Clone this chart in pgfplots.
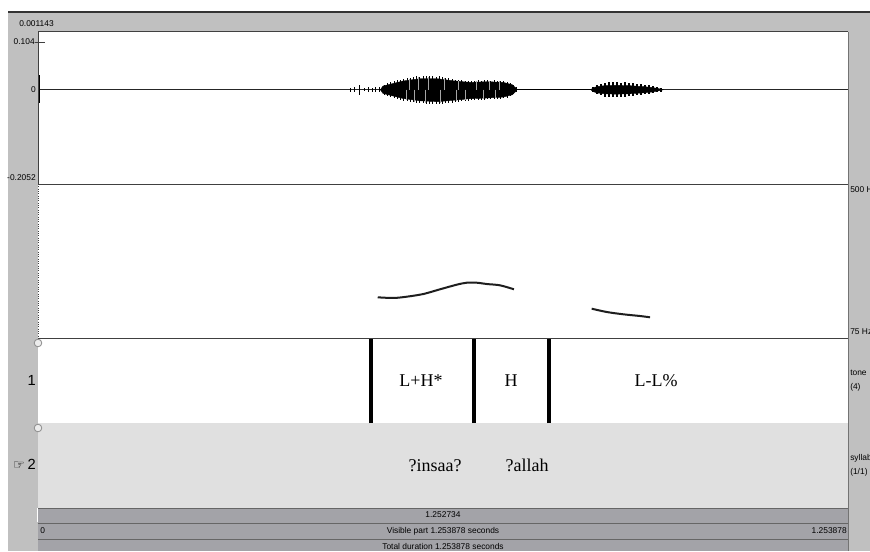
\documentclass[border=0pt]{standalone}
\usepackage{pgfplots}
\pgfplotsset{compat=1.18}
\usepackage{fontspec}
\setmainfont{Liberation Sans}
\newfontfamily\serifft{Liberation Serif}
\newfontfamily\dejavu{DejaVu Sans}
\definecolor{bggray}{RGB}{192,192,192}
\definecolor{tiergray}{RGB}{224,224,224}
\definecolor{bargray}{RGB}{163,163,168}
\definecolor{linegray}{RGB}{64,64,64}
\definecolor{pitchcol}{RGB}{30,30,30}
\pgfplotsset{praat/.style={scale only axis, hide axis, xmin=0, xmax=1.253878,
  width=607.5pt, anchor=south west, clip=true}}
\newcommand{\praatsmall}{\fontsize{6.3}{7}\selectfont}
\begin{document}
\begin{tikzpicture}
\begin{scope}[x=0.75pt,y=0.75pt]
\fill[white] (0,0) rectangle (870,551);
\fill[bggray] (8,0) rectangle (870,538);
\draw[black!80, line width=1.5pt] (8,538.5) -- (870,538.5);
\fill[white] (38,128) rectangle (848,519);
\fill[tiergray] (38,43) rectangle (848,128);
\fill[bargray] (38,0) rectangle (848,43);
\end{scope}

% ---------------- waveform ----------------
\begin{axis}[praat, at={(28.5pt,275.25pt)}, height=114pt, ymin=-0.2052, ymax=0.1257]
\addplot[black!85, line width=0.6pt] coordinates {(0,0) (1.253878,0)};
\addplot[black, line width=1.1pt] coordinates {(0.742,0) (0.859,0)};
\addplot[black, line width=1.6pt] coordinates {(0.0008,0.032) (0.0008,-0.028)};
% main blob core
\addplot[fill=black, draw=black, line width=0.3pt] coordinates {
(0.530,0) (0.534,0.008) (0.565,0.019) (0.591,0.024) (0.618,0.024) (0.642,0.0195) (0.669,0.016)
(0.695,0.0175) (0.720,0.016) (0.734,0.011) (0.741,0.002)
(0.741,-0.002) (0.734,-0.011) (0.720,-0.016) (0.695,-0.018) (0.669,-0.0195) (0.642,-0.023)
(0.618,-0.026) (0.591,-0.024) (0.565,-0.019) (0.534,-0.008)} -- cycle;
% spikes on the main blob
\addplot[ycomb, black, line width=0.55pt, mark=none] coordinates {
(0.483,0.004) (0.489,0.005) (0.498,0.011) (0.505,0.004) (0.512,0.005) (0.518,0.004) (0.523,0.006) (0.529,0.005)
(0.536,0.011) (0.541,0.014) (0.546,0.016) (0.551,0.018) (0.556,0.021) (0.561,0.022) (0.566,0.024)
(0.571,0.025) (0.576,0.026) (0.581,0.028) (0.586,0.029) (0.591,0.028) (0.596,0.029) (0.601,0.030)
(0.606,0.029) (0.611,0.029) (0.616,0.028) (0.621,0.029) (0.626,0.027) (0.631,0.026) (0.636,0.025)
(0.641,0.024) (0.646,0.022) (0.651,0.022) (0.656,0.021) (0.661,0.020) (0.666,0.020) (0.671,0.019)
(0.676,0.020) (0.681,0.021) (0.686,0.020) (0.691,0.021) (0.696,0.021) (0.701,0.020) (0.706,0.021)
(0.711,0.020) (0.716,0.020) (0.721,0.019) (0.726,0.017) (0.731,0.014) (0.736,0.010) (0.740,0.005)};
\addplot[ycomb, black, line width=0.55pt, mark=none] coordinates {
(0.483,-0.004) (0.489,-0.004) (0.498,-0.011) (0.505,-0.003) (0.512,-0.004) (0.518,-0.004) (0.523,-0.005) (0.529,-0.005)
(0.536,-0.011) (0.541,-0.013) (0.546,-0.016) (0.551,-0.018) (0.556,-0.020) (0.561,-0.022) (0.566,-0.024)
(0.571,-0.025) (0.576,-0.026) (0.581,-0.027) (0.586,-0.028) (0.591,-0.028) (0.596,-0.029) (0.601,-0.030)
(0.606,-0.031) (0.611,-0.031) (0.616,-0.031) (0.621,-0.030) (0.626,-0.030) (0.631,-0.029) (0.636,-0.028)
(0.641,-0.028) (0.646,-0.027) (0.651,-0.026) (0.656,-0.025) (0.661,-0.024) (0.666,-0.024) (0.671,-0.023)
(0.676,-0.023) (0.681,-0.022) (0.686,-0.022) (0.691,-0.022) (0.696,-0.021) (0.701,-0.021) (0.706,-0.021)
(0.711,-0.020) (0.716,-0.020) (0.721,-0.019) (0.726,-0.017) (0.731,-0.014) (0.736,-0.010) (0.740,-0.005)};
% lighter streaks inside the main blob
\addplot[ycomb, black!35, line width=0.35pt, mark=none] coordinates {
(0.574,0.024) (0.589,0.027) (0.604,0.028) (0.629,0.025) (0.651,0.020) (0.678,0.019) (0.699,0.019) (0.714,0.018)};
\addplot[ycomb, black!35, line width=0.35pt, mark=none] coordinates {
(0.570,-0.023) (0.583,-0.026) (0.600,-0.028) (0.622,-0.029) (0.647,-0.024) (0.662,-0.022) (0.689,-0.020) (0.708,-0.019)};
% second blob
\addplot[fill=black, draw=black, line width=0.3pt] coordinates {
(0.856,0) (0.859,0.004) (0.866,0.007) (0.878,0.009) (0.895,0.0095) (0.915,0.009) (0.935,0.007)
(0.950,0.005) (0.962,0.002) (0.968,0)
(0.962,-0.002) (0.950,-0.005) (0.935,-0.007) (0.915,-0.009) (0.895,-0.0095) (0.878,-0.009)
(0.866,-0.007) (0.859,-0.004)} -- cycle;
\addplot[ycomb, black, line width=0.9pt, mark=none] coordinates {
(0.8591,0.0065) (0.8653,0.0109) (0.8715,0.0131) (0.8777,0.0153) (0.8839,0.0174) (0.8901,0.0163)
(0.8963,0.0174) (0.9024,0.0153) (0.9086,0.0163) (0.9148,0.0153) (0.9210,0.0142) (0.9272,0.0131)
(0.9334,0.0131) (0.9396,0.0109) (0.9458,0.0098) (0.9520,0.0087) (0.9582,0.0065) (0.9644,0.0044)};
\addplot[ycomb, black, line width=0.9pt, mark=none] coordinates {
(0.8591,-0.0060) (0.8653,-0.0100) (0.8715,-0.0125) (0.8777,-0.0150) (0.8839,-0.0165) (0.8901,-0.0160)
(0.8963,-0.0165) (0.9024,-0.0150) (0.9086,-0.0155) (0.9148,-0.0145) (0.9210,-0.0140) (0.9272,-0.0125)
(0.9334,-0.0120) (0.9396,-0.0100) (0.9458,-0.0090) (0.9520,-0.0080) (0.9582,-0.0060) (0.9644,-0.0040)};
\end{axis}

% ---------------- pitch ----------------
\begin{axis}[praat, at={(28.5pt,159.75pt)}, height=115.5pt, ymin=75, ymax=500]
\addplot[pitchcol, line width=1.5pt, smooth] coordinates {
(0.5259,187.3) (0.5500,185.4) (0.5708,189.0) (0.5965,196.4) (0.6223,209.4) (0.6481,222.1)
(0.6636,227.6) (0.6791,227.6) (0.6946,224.0) (0.7152,220.4) (0.7368,209.4)};
\addplot[pitchcol, line width=1.5pt, smooth] coordinates {
(0.8571,155.9) (0.8803,146.8) (0.9060,140.4) (0.9319,135.7) (0.9474,132.1)};
\end{axis}

% ---------------- tiers ----------------
\begin{axis}[praat, at={(28.5pt,32.25pt)}, height=127.5pt, ymin=0, ymax=2]
\addplot[black, line width=2.4pt] coordinates {(0.5155,1) (0.5155,2)};
\addplot[black, line width=2.4pt] coordinates {(0.6749,1) (0.6749,2)};
\addplot[black, line width=2.4pt] coordinates {(0.7910,1) (0.7910,2)};
\node[font=\serifft\fontsize{13.5}{16}\selectfont] at (axis cs:0.5929,1.5) {L+H*};
\node[font=\serifft\fontsize{13.5}{16}\selectfont] at (axis cs:0.7322,1.5) {H};
\node[font=\serifft\fontsize{13.5}{16}\selectfont] at (axis cs:0.9567,1.5) {L-L\%};
\node[font=\serifft\fontsize{13.5}{16}\selectfont] at (axis cs:0.6146,0.5) {?insaa?};
\node[font=\serifft\fontsize{13.5}{16}\selectfont] at (axis cs:0.7570,0.5) {?allah};
\end{axis}

\begin{scope}[x=0.75pt,y=0.75pt]
% ---------------- frame lines ----------------
\draw[linegray, line width=0.75pt] (38,519) -- (848,519);
\draw[linegray, line width=0.75pt] (38,367) -- (848,367);
\draw[linegray, line width=0.75pt] (38,213) -- (848,213);
\draw[linegray, line width=0.75pt] (38,519) -- (38,367);
\draw[linegray, line width=0.75pt, densely dotted] (38,367) -- (38,213);
\draw[black!60, line width=0.75pt] (38,43) -- (848,43);
\draw[black!60, line width=0.75pt] (38,28) -- (848,28);
\draw[black!60, line width=0.75pt] (38,12) -- (848,12);
\draw[white, line width=0.75pt] (37.5,29) -- (37.5,43);
\draw[black!55, line width=1.2pt] (848.5,0) -- (848.5,519);
\draw[linegray, line width=0.6pt] (35,509) -- (45,509);
\draw[black!45, fill=white!70!bggray, line width=0.6pt] (38,208) circle (3.8);
\draw[black!45, fill=white!70!bggray, line width=0.6pt] (38,123) circle (3.8);

% ---------------- labels ----------------
\begin{scope}
\clip (0,0) rectangle (870,551);
\node[anchor=west, font=\praatsmall, inner sep=0pt] at (19,527) {0.001143};
\node[anchor=east, font=\praatsmall, inner sep=0pt] at (35,509) {0.104};
\node[anchor=east, font=\praatsmall, inner sep=0pt] at (36,461) {0};
\node[anchor=east, font=\praatsmall, inner sep=0pt] at (36,373) {-0.2052};
\node[anchor=west, font=\praatsmall, inner sep=0pt] at (850,361) {500 Hz};
\node[anchor=west, font=\praatsmall, inner sep=0pt] at (850,219) {75 Hz};
\node[anchor=west, font=\praatsmall, inner sep=0pt] at (850,178) {tone};
\node[anchor=west, font=\praatsmall, inner sep=0pt] at (850,164) {(4)};
\node[anchor=west, font=\praatsmall, inner sep=0pt] at (850,93) {syllable};
\node[anchor=west, font=\praatsmall, inner sep=0pt] at (850,79) {(1/1)};
\node[anchor=east, font=\fontsize{11}{12}\selectfont, inner sep=0pt] at (36,171) {1};
\node[anchor=east, font=\fontsize{11}{12}\selectfont, inner sep=0pt] at (36,87) {{\dejavu\fontsize{10}{11}\selectfont ☞}\,2};
\node[font=\praatsmall, inner sep=0pt] at (443,36) {1.252734};
\node[anchor=west, font=\praatsmall, inner sep=0pt] at (40,20) {0};
\node[font=\praatsmall, inner sep=0pt] at (443,20) {Visible part 1.253878 seconds};
\node[anchor=east, font=\praatsmall, inner sep=0pt] at (847,20) {1.253878};
\node[font=\praatsmall, inner sep=0pt] at (443,5) {Total duration 1.253878 seconds};
\end{scope}
\pgfresetboundingbox
\path[use as bounding box] (0,0) rectangle (870,551);
\end{scope}
\end{tikzpicture}
\end{document}
